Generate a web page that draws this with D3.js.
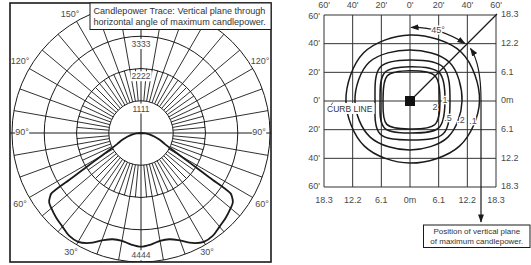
<!DOCTYPE html>
<html><head><meta charset="utf-8">
<script src="https://cdn.jsdelivr.net/npm/d3@7"></script>
<style>
body{margin:0;background:#fff}
svg{display:block}
text{font-family:"Liberation Sans",Arial,sans-serif}
</style>
</head><body>
<svg id="c" width="531" height="265"></svg>
<script>
// ---------- DATA ----------
const ringValues = [1111, 2222, 3333, 4444];
const angleLabels = ["30°", "60°", "90°", "120°", "150°"];
const traceAngles = [0, 5, 10, 15, 20, 25, 30, 35, 40, 45, 50, 53, 55, 56, 57, 58, 60, 62.5, 65, 70, 75, 80, 85, 90];
const traceCandela = [3917, 3858, 3772, 3790, 3940, 4180, 4330, 4320, 4210, 4130, 4031, 3962, 3824, 3721, 2825, 2239, 1550, 1137, 909, 686, 489, 317, 155, 0];
const titleLines = ["Candlepower Trace: Vertical plane through", "horizontal angle of maximum candlepower."];

const feetTicks = [-60, -40, -20, 0, 20, 40, 60];
const feetLabels = ["60'", "40'", "20'", "0'", "20'", "40'", "60'"];
const meterLabels = ["18.3", "12.2", "6.1", "0m", "6.1", "12.2", "18.3"];
const contourLevels = ["2", "1", ".5", ".2", ".1"];
// contour outlines in feet (x east, y north)
const contour2  = [[20.9,0],[17.5,17.5],[0,21.1],[-15.8,17.6],[-18.8,0],[-16.2,-16.3],[0,-19.5],[17.4,-16.4]];
const contour1  = [[24.4,0],[20.4,19.8],[0,23.9],[-17.6,19.9],[-20.9,0],[-18,-18.6],[0,-22.3],[20.2,-18.6]];
const contour05 = [[27.9,0],[23.2,23.6],[0,28.6],[-20.8,23.6],[-24.4,0],[-21,-22.8],[0,-27.2],[23.2,-22.8]];
const contour02 = [[36.3,0],[27.5,27],[0,35.6],[-28.5,27],[-38.4,0],[-27.8,-25.2],[0,-34.2],[26.5,-25.2]];
const contour01 = [[48.5,0],[35.8,34],[0,46],[-32.5,33.5],[-44.7,0],[-31.8,-31.5],[0,-43.3],[34.5,-31.5]];
const contours = [contour2, contour1, contour05, contour02, contour01];
const contourLabelPos = [[17.5,-4.8],[24.4,0],[26.5,-12.6],[35.6,-14],[44,-14.5]];
const boxLines = ["Position of vertical plane", "of maximum candlepower."];

// ---------- DRAW ----------
const svg = d3.select("#c");
const ink = "#1a1a1a", grey = "#4a4a4a";

// ===== Polar chart =====
const cx = 141, cy = 133, R = 129;
const rScale = d3.scaleLinear().domain([0, 4444]).range([0, R]);
const r1 = rScale(ringValues[0]), r2 = rScale(ringValues[1]);
const P = svg.append("g");
const toRad = d => d * Math.PI / 180;
const pt = (theta, r, side) => [cx + side * r * Math.sin(toRad(theta)), cy + r * Math.cos(toRad(theta))];

P.append("defs").append("clipPath").attr("id", "frameClip")
  .append("rect").attr("x", 10).attr("y", 3).attr("width", 261).attr("height", 259);
const G = P.append("g").attr("clip-path", "url(#frameClip)");

ringValues.forEach(v => {
  G.append("circle").attr("cx", cx).attr("cy", cy).attr("r", rScale(v))
    .attr("fill", "none").attr("stroke", ink).attr("stroke-width", 1);
});
d3.range(5, 180, 5).forEach(a => {
  if (a === 90) return;
  const outer = (a % 10 === 0) ? R : r2;
  [1, -1].forEach(s => {
    const p0 = pt(a, r1, s), p1 = pt(a, outer, s);
    G.append("line").attr("x1", p0[0]).attr("y1", p0[1]).attr("x2", p1[0]).attr("y2", p1[1])
      .attr("stroke", ink).attr("stroke-width", 0.9);
  });
});
G.append("line").attr("x1", cx).attr("x2", cx).attr("y1", cy - R).attr("y2", cy + R).attr("stroke", ink).attr("stroke-width", 1);
G.append("line").attr("x1", cx - R - 5).attr("x2", cx + R + 5).attr("y1", cy).attr("y2", cy).attr("stroke", ink).attr("stroke-width", 1);

const tracePts = [];
for (let i = traceAngles.length - 1; i >= 0; i--) tracePts.push({a: Math.PI - toRad(traceAngles[i]), r: rScale(traceCandela[i])});
for (let i = 1; i < traceAngles.length; i++) tracePts.push({a: Math.PI + toRad(traceAngles[i]), r: rScale(traceCandela[i])});
const radial = d3.lineRadial().angle(d => d.a).radius(d => d.r).curve(d3.curveCatmullRom.alpha(0.5));
G.append("path").attr("transform", `translate(${cx},${cy})`).attr("d", radial(tracePts))
  .attr("fill", "none").attr("stroke", ink).attr("stroke-width", 1.8);

ringValues.forEach((v, i) => {
  const yy = (i < 3) ? cy - rScale(v) + 8.5 : cy + R - 6;
  const t = P.append("text").attr("x", cx).attr("y", yy).attr("text-anchor", "middle")
    .attr("font-size", 8.5).attr("fill", grey).attr("dominant-baseline", "middle").text(v);
  const b = t.node().getBBox();
  P.insert("rect", () => t.node()).attr("x", b.x - 1).attr("y", b.y).attr("width", b.width + 2).attr("height", b.height).attr("fill", "#fff");
});

const angPos = [[71, 253], [20, 205], [22, 133], [20, 62], [70, 15],
                [207, 253], [262, 205], [259, 133], [260, 62]];
const angText = [0, 1, 2, 3, 4, 0, 1, 2, 3].map(i => angleLabels[i]);
angPos.forEach((p, i) => {
  const t = P.append("text").attr("x", p[0]).attr("y", p[1]).attr("text-anchor", "middle")
    .attr("dominant-baseline", "middle").attr("font-size", 9).attr("fill", grey).text(angText[i]);
  const b = t.node().getBBox();
  P.insert("rect", () => t.node()).attr("x", b.x).attr("y", b.y + 1).attr("width", b.width).attr("height", b.height - 2).attr("fill", "#fff");
});

P.append("rect").attr("x", 10).attr("y", 3).attr("width", 261).attr("height", 259)
  .attr("fill", "none").attr("stroke", ink).attr("stroke-width", 1.6);
P.append("rect").attr("x", 90).attr("y", 3).attr("width", 181).attr("height", 26.5)
  .attr("fill", "#fff").attr("stroke", ink).attr("stroke-width", 1);
titleLines.forEach((l, i) => {
  P.append("text").attr("x", 93.5).attr("y", 11.5 + i * 11).attr("dominant-baseline", "middle")
    .attr("font-size", 9.1).attr("fill", "#333").text(l);
});

// ===== Isofootcandle chart =====
const x = d3.scaleLinear().domain([-60, 60]).range([324, 496]);
const y = d3.scaleLinear().domain([-60, 60]).range([187, 15]);
const Q = svg.append("g");
feetTicks.forEach(t => {
  Q.append("line").attr("x1", x(t)).attr("x2", x(t)).attr("y1", y(-60)).attr("y2", y(60)).attr("stroke", "#333").attr("stroke-width", 1);
  Q.append("line").attr("y1", y(t)).attr("y2", y(t)).attr("x1", x(-60)).attr("x2", x(60)).attr("stroke", "#333").attr("stroke-width", 1);
});
const cline = d3.line().x(d => x(d[0])).y(d => y(d[1])).curve(d3.curveCatmullRomClosed.alpha(0.5));
contours.forEach(c => {
  Q.append("path").attr("d", cline(c)).attr("fill", "none").attr("stroke", ink).attr("stroke-width", 1.5);
});
contourLevels.forEach((lv, i) => {
  Q.append("text").attr("x", x(contourLabelPos[i][0])).attr("y", y(contourLabelPos[i][1]))
    .attr("text-anchor", "middle").attr("dominant-baseline", "middle").attr("font-size", 9).attr("fill", grey)
    .attr("stroke", "#fff").attr("stroke-width", 2.5).attr("paint-order", "stroke").text(lv);
});
Q.append("line").attr("x1", x(0)).attr("y1", y(0)).attr("x2", x(60) + 1).attr("y2", y(60) - 1).attr("stroke", ink).attr("stroke-width", 1.2);
Q.append("rect").attr("x", x(0) - 5).attr("y", y(0) - 5).attr("width", 10).attr("height", 10).attr("fill", "#111");

const curb = Q.append("text").attr("x", 327).attr("y", 112).attr("font-size", 8.5).attr("fill", "#333").text("CURB LINE");
const cb = curb.node().getBBox();
Q.insert("rect", () => curb.node()).attr("x", cb.x - 2).attr("y", cb.y - 1).attr("width", cb.width + 4).attr("height", cb.height + 1).attr("fill", "#fff");
Q.append("line").attr("x1", 331).attr("y1", 105).attr("x2", 333).attr("y2", 102.5).attr("stroke", "#333").attr("stroke-width", 0.8);

const defs = svg.append("defs");
defs.append("marker").attr("id", "ah").attr("viewBox", "0 0 10 10").attr("refX", 9).attr("refY", 5)
  .attr("markerWidth", 7).attr("markerHeight", 7).attr("orient", "auto-start-reverse")
  .append("path").attr("d", "M0,1.5L10,5L0,8.5Z").attr("fill", ink);
const p45 = d3.path(); p45.moveTo(411, 27.5); p45.quadraticCurveTo(438, 26.5, 465, 43.5);
Q.append("path").attr("d", p45.toString()).attr("fill", "none").attr("stroke", ink).attr("stroke-width", 1.2)
  .attr("marker-start", "url(#ah)").attr("marker-end", "url(#ah)");
Q.append("text").attr("x", 438).attr("y", 31).attr("text-anchor", "middle").attr("dominant-baseline", "middle")
  .attr("font-size", 9).attr("fill", grey).attr("stroke", "#fff").attr("stroke-width", 3).attr("paint-order", "stroke").text("45°");
const pv = d3.path(); pv.moveTo(481, 222); pv.lineTo(481, 100); pv.quadraticCurveTo(481, 64, 470.5, 48.5);
Q.append("path").attr("d", pv.toString()).attr("fill", "none").attr("stroke", ink).attr("stroke-width", 1.2)
  .attr("marker-start", "url(#ah)").attr("marker-end", "url(#ah)");

feetTicks.forEach((t, i) => {
  Q.append("text").attr("x", x(t)).attr("y", 6).attr("text-anchor", "middle").attr("dominant-baseline", "middle")
    .attr("font-size", 9).attr("fill", grey).text(feetLabels[i]);
  Q.append("text").attr("x", 320).attr("y", y(-t) + (i === 0 ? 2 : 0)).attr("text-anchor", "end").attr("dominant-baseline", "middle")
    .attr("font-size", 9).attr("fill", grey).text(feetLabels[i]);
  Q.append("text").attr("x", 501).attr("y", y(-t)).attr("dominant-baseline", "middle")
    .attr("font-size", 9).attr("fill", grey).text(meterLabels[i]);
  Q.append("text").attr("x", x(t)).attr("y", 201).attr("text-anchor", "middle").attr("dominant-baseline", "middle")
    .attr("font-size", 9).attr("fill", grey).text(meterLabels[i]);
});

Q.append("rect").attr("x", 423.5).attr("y", 225).attr("width", 106.5).attr("height", 22.5)
  .attr("fill", "#fff").attr("stroke", ink).attr("stroke-width", 1);
boxLines.forEach((l, i) => {
  Q.append("text").attr("x", 476.8).attr("y", 231.5 + i * 10.5).attr("text-anchor", "middle").attr("dominant-baseline", "middle")
    .attr("font-size", 8).attr("fill", "#333").text(l);
});
</script>
</body></html>
